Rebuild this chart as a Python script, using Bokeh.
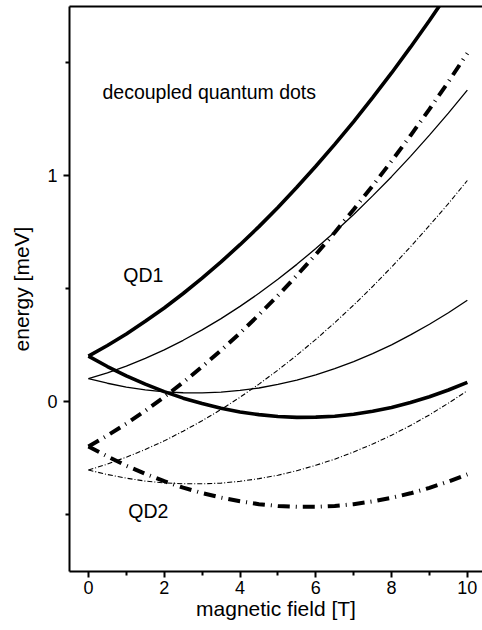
from bokeh.plotting import figure
from bokeh.models import Range1d, FixedTicker, LinearAxis, ColumnDataSource
from bokeh.core.properties import value
from bokeh.embed import file_html
from bokeh.resources import INLINE

# magnetic field [T]
field = [0, 0.5, 1, 1.5, 2, 2.5, 3, 3.5, 4, 4.5, 5, 5.5, 6, 6.5, 7, 7.5, 8, 8.5, 9, 9.5, 10]

# QD1 levels (energy in meV)
qd1_thick_up = [0.200, 0.247, 0.298, 0.354, 0.413, 0.477, 0.545, 0.617, 0.693, 0.773, 0.858,
                0.947, 1.040, 1.137, 1.238, 1.344, 1.453, 1.567, 1.685, 1.808, 1.934]
qd1_thick_down = [0.200, 0.154, 0.113, 0.076, 0.043, 0.014, -0.010, -0.031, -0.047, -0.059, -0.067,
                  -0.071, -0.070, -0.066, -0.057, -0.044, -0.027, -0.005, 0.020, 0.050, 0.084]
qd1_thin_up = [0.100, 0.126, 0.156, 0.190, 0.228, 0.270, 0.316, 0.366, 0.420, 0.478, 0.540,
               0.606, 0.676, 0.749, 0.827, 0.909, 0.994, 1.084, 1.178, 1.275, 1.377]
qd1_thin_down = [0.100, 0.080, 0.063, 0.051, 0.042, 0.038, 0.037, 0.041, 0.048, 0.059, 0.075,
                 0.094, 0.117, 0.145, 0.176, 0.211, 0.250, 0.294, 0.341, 0.392, 0.447]

# QD2 levels (energy in meV)
qd2_thick_up = [-0.200, -0.151, -0.099, -0.042, 0.019, 0.084, 0.153, 0.226, 0.302, 0.383, 0.468,
                0.557, 0.650, 0.747, 0.849, 0.954, 1.063, 1.176, 1.293, 1.414, 1.540]
qd2_thick_down = [-0.200, -0.244, -0.285, -0.321, -0.353, -0.382, -0.406, -0.426, -0.442, -0.455, -0.463,
                  -0.467, -0.467, -0.463, -0.455, -0.443, -0.427, -0.407, -0.383, -0.355, -0.323]
qd2_thin_up = [-0.304, -0.278, -0.247, -0.213, -0.175, -0.132, -0.086, -0.036, 0.018, 0.076, 0.138,
               0.204, 0.274, 0.348, 0.426, 0.508, 0.594, 0.684, 0.778, 0.875, 0.977]
qd2_thin_down = [-0.304, -0.324, -0.340, -0.353, -0.361, -0.365, -0.365, -0.362, -0.354, -0.342, -0.327,
                 -0.307, -0.283, -0.256, -0.224, -0.189, -0.150, -0.107, -0.060, -0.008, 0.047]

x_ticks = [0, 2, 4, 6, 8, 10]
x_minor = [1, 3, 5, 7, 9]
y_ticks = [0, 1]
y_minor = [-0.5, 0.5, 1.5]

annotations = ["decoupled quantum dots", "QD1", "QD2"]
ann_x = [0.37, 0.92, 1.05]
ann_y = [1.368, 0.561, -0.484]

FONT = "Liberation Sans"

p = figure(width=482, height=630, output_backend="svg", toolbar_location=None,
           x_range=Range1d(-0.5, 10.4), y_range=Range1d(-0.753, 1.747),
           min_border_left=69, min_border_right=0, min_border_top=6, min_border_bottom=59)
p.outline_line_color = None
p.xgrid.visible = False
p.ygrid.visible = False
p.background_fill_color = "white"
p.border_fill_color = "white"

src = ColumnDataSource(dict(b=field,
                            a1=qd1_thick_up, a2=qd1_thick_down, a3=qd1_thin_up, a4=qd1_thin_down,
                            b1=qd2_thick_up, b2=qd2_thick_down, b3=qd2_thin_up, b4=qd2_thin_down))

p.line("b", "a1", source=src, line_color="black", line_width=3.6)
p.line("b", "a2", source=src, line_color="black", line_width=3.6)
p.line("b", "a3", source=src, line_color="black", line_width=1.3)
p.line("b", "a4", source=src, line_color="black", line_width=1.3)
p.line("b", "b1", source=src, line_color="black", line_width=4, line_dash="12 6 1 6")
p.line("b", "b2", source=src, line_color="black", line_width=4, line_dash="12 6 1 6")
p.line("b", "b3", source=src, line_color="black", line_width=1.1, line_dash="5 2 1 2")
p.line("b", "b4", source=src, line_color="black", line_width=1.1, line_dash="5 2 1 2")

p.text(x=ann_x, y=ann_y, text=annotations, text_font=value(FONT), text_font_size="19.5px",
       text_baseline="middle", text_align="left", text_color="black")

xa = p.xaxis[0]
xa.ticker = FixedTicker(ticks=x_ticks, minor_ticks=x_minor)
xa.axis_label = "magnetic field [T]"
ya = p.yaxis[0]
ya.ticker = FixedTicker(ticks=y_ticks, minor_ticks=y_minor)
ya.axis_label = "energy [meV]"
for ax in (xa, ya):
    ax.axis_line_width = 2
    ax.axis_line_color = "black"
    ax.major_tick_line_width = 2
    ax.minor_tick_line_width = 2
    ax.major_tick_line_color = "black"
    ax.minor_tick_line_color = "black"
    ax.major_tick_in = 0
    ax.minor_tick_in = 0
    ax.major_tick_out = 6
    ax.minor_tick_out = 4
    ax.major_label_text_font = FONT
    ax.major_label_text_font_size = "18px"
    ax.major_label_text_color = "black"
    ax.axis_label_text_font = FONT
    ax.axis_label_text_font_size = "21px"
    ax.axis_label_text_font_style = "normal"
    ax.axis_label_text_color = "black"
xa.major_label_standoff = 3
xa.axis_label_standoff = 0
ya.major_label_standoff = 6
ya.axis_label_standoff = 11

top = LinearAxis(ticker=FixedTicker(ticks=[]), axis_line_width=2, axis_line_color="black",
                 major_tick_out=0, major_tick_in=0, minor_tick_out=0, minor_tick_in=0,
                 major_label_standoff=0, major_label_text_font_size="0px")
p.add_layout(top, "above")

open("out.html", "w").write(file_html(p, INLINE))
